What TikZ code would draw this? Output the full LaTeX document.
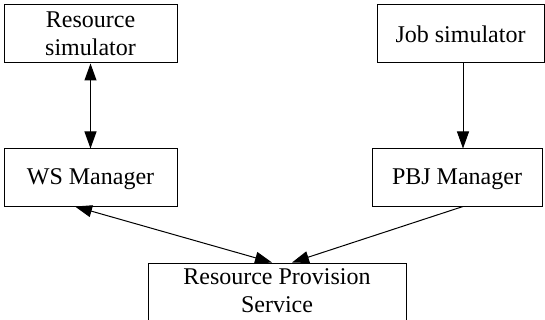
\documentclass[tikz,border=0pt]{standalone}
\usepackage{fontspec}
\setmainfont{Liberation Serif}
\usetikzlibrary{arrows.meta}
\tikzset{
  box/.style={draw=black, line width=1pt, inner sep=0pt, align=center,
    font=\fontsize{24}{28}\selectfont},
  conn/.style={line width=1pt, draw=black},
  tip/.tip={Triangle[length=17pt,width=12pt]}
}
\begin{document}
\begin{tikzpicture}[x=1pt,y=-1pt]
\useasboundingbox (0,0) rectangle (545,320);
\clip (0,0) rectangle (545,320);
\node[box, minimum width=173pt, minimum height=58pt] (rs) at (90.5,34) {Resource\\simulator};
\node[box, minimum width=173pt, minimum height=57pt, text depth=1pt] (ws) at (90.5,177.5) {WS Manager};
\node[box, minimum width=167pt, minimum height=58pt] (job) at (460.5,34) {Job simulator};
\node[box, minimum width=170pt, minimum height=57pt, text depth=1pt] (pbj) at (457,177.5) {PBJ Manager};
\node[box, minimum width=258pt, minimum height=62pt, text depth=6pt] (rps) at (277,294) {Resource Provision\\Service};
\draw[conn, {tip}-{tip}] (rs.south) -- (ws.north);
\draw[conn, -{tip}] ([xshift=2.5pt]job.south) -- ([xshift=6pt]pbj.north);
\draw[conn, {tip}-{tip}] ([xshift=-15.5pt]ws.south) -- ([xshift=-5pt]rps.north);
\draw[conn, -{tip}] ([xshift=6pt]pbj.south) -- ([xshift=15pt]rps.north);
\end{tikzpicture}
\end{document}
